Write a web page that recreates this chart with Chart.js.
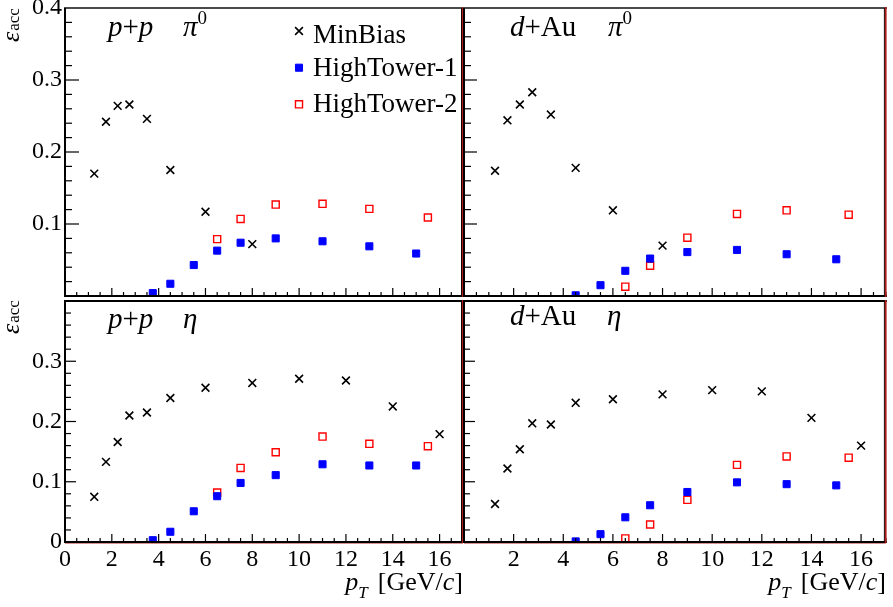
<!DOCTYPE html>
<html>
<head>
<meta charset="utf-8">
<title>Acceptance</title>
<script src="https://cdn.jsdelivr.net/npm/chart.js@4.4.1/dist/chart.umd.min.js"></script>
<style>
    html, body { margin: 0; padding: 0; background: #fff; }
    #wrap { position: relative; width: 893px; height: 607px; overflow: hidden; }
    #wrap canvas { position: absolute; left: 0; top: 0; }
</style>
</head>
<body>
<div id="wrap">
    <canvas id="pp-pi0" width="893" height="607"></canvas>
    <canvas id="dau-pi0" width="893" height="607"></canvas>
    <canvas id="pp-eta" width="893" height="607"></canvas>
    <canvas id="dau-eta" width="893" height="607"></canvas>
</div>
<script>
"use strict";

// pT bin centres [GeV/c]
var ptMinBiasPi0 = [1.25, 1.75, 2.25, 2.75, 3.5, 4.5, 6, 8];
var ptMinBiasEta = [1.25, 1.75, 2.25, 2.75, 3.5, 4.5, 6, 8, 10, 12, 14, 16];
var ptHT1pp = [3.75, 4.5, 5.5, 6.5, 7.5, 9, 11, 13, 15];
var ptHT1dAu = [4.5, 5.5, 6.5, 7.5, 9, 11, 13, 15];
var ptHT2 = [6.5, 7.5, 9, 11, 13, 15.5];

// acceptance, p+p pi0
var ppPi0MinBias = [0.170, 0.242, 0.264, 0.266, 0.246, 0.175, 0.117, 0.072];
var ppPi0HT1 = [0.004, 0.017, 0.043, 0.063, 0.074, 0.080, 0.076, 0.069, 0.059];
var ppPi0HT2 = [0.079, 0.107, 0.127, 0.128, 0.121, 0.109];

// acceptance, d+Au pi0
var dAuPi0MinBias = [0.174, 0.244, 0.266, 0.283, 0.252, 0.178, 0.119, 0.070];
var dAuPi0HT1 = [0.001, 0.015, 0.035, 0.052, 0.061, 0.064, 0.058, 0.051];
var dAuPi0HT2 = [0.013, 0.042, 0.081, 0.114, 0.119, 0.113];

// acceptance, p+p eta
var ppEtaMinBias = [0.075, 0.133, 0.166, 0.210, 0.215, 0.239, 0.256, 0.264, 0.271, 0.268, 0.225, 0.179];
var ppEtaHT1 = [0.003, 0.017, 0.051, 0.076, 0.098, 0.111, 0.129, 0.127, 0.127];
var ppEtaHT2 = [0.082, 0.123, 0.149, 0.175, 0.163, 0.159];

// acceptance, d+Au eta
var dAuEtaMinBias = [0.063, 0.122, 0.154, 0.197, 0.195, 0.231, 0.237, 0.245, 0.252, 0.250, 0.206, 0.160];
var dAuEtaHT1 = [0.001, 0.013, 0.041, 0.061, 0.083, 0.099, 0.096, 0.094];
var dAuEtaHT2 = [0.006, 0.029, 0.070, 0.128, 0.142, 0.140];

var seriesNames = ["MinBias", "HighTower-1", "HighTower-2"];
var xTickLabelsLeft = [0, 2, 4, 6, 8, 10, 12, 14, 16];
var xTickLabelsRight = [2, 4, 6, 8, 10, 12, 14, 16];
var yTickLabelsTop = [0.1, 0.2, 0.3, 0.4];
var yTickLabelsBottom = [0, 0.1, 0.2, 0.3];

var FONT = "'Liberation Serif', 'DejaVu Serif', serif";
var Y_AXIS_W = 60;   // room kept for y tick labels
var X_AXIS_H = 40;   // room kept for x tick labels


function pts(xs, ys) {
    return xs.map(function (x, i) { return {x: x, y: ys[i]}; });
}

// text with italic / sub / superscript pieces
function richText(ctx, x, y, parts, alignRight) {
    var total = 0;
    parts.forEach(function (p) {
        ctx.font = (p.i ? "italic " : "") + (p.s || 26) + "px " + FONT;
        p.w = ctx.measureText(p.t).width + (p.gap || 0);
        total += p.w;
    });
    var cx = alignRight ? x - total : x;
    parts.forEach(function (p) {
        ctx.font = (p.i ? "italic " : "") + (p.s || 26) + "px " + FONT;
        ctx.fillText(p.t, cx, y + (p.dy || 0));
        cx += p.w;
    });
}

var systemText = {
    "pp": [{t: "p", i: 1, s: 29}, {t: "+", s: 29}, {t: "p", i: 1, s: 29}],
    "dAu": [{t: "d", i: 1, s: 29}, {t: "+", s: 29}, {t: "Au", s: 29}]
};
var mesonText = {
    "pi0": [{t: "π", i: 1, s: 29}, {t: "0", s: 19, dy: -12}],
    "eta": [{t: "η", i: 1, s: 29}]
};

function line(ctx, x1, y1, x2, y2, color, w) {
    ctx.beginPath();
    ctx.strokeStyle = color;
    ctx.lineWidth = w;
    ctx.moveTo(x1, y1);
    ctx.lineTo(x2, y2);
    ctx.stroke();
}

// frame, inward ticks, titles and legend
var framePlugin = {
    id: "frame",
    afterDraw: function (chart) {
        var ctx = chart.ctx;
        var a = chart.chartArea;
        var o = chart.options.plugins.frame;
        ctx.save();

        // ticks
        var xs = chart.scales.x, ys = chart.scales.y;
        xs.ticks.forEach(function (t) {
            var px = xs.getPixelForValue(t.value);
            var len = (t.value % 2 === 0) ? o.xTick[0] : o.xTick[1];
            line(ctx, px, a.bottom, px, a.bottom - len, "#000", 1.2);
        });
        ys.ticks.forEach(function (t) {
            var py = ys.getPixelForValue(t.value);
            var major = Math.abs(t.value * 10 - Math.round(t.value * 10)) < 1e-6;
            var len = major ? o.yTick[0] : o.yTick[1];
            line(ctx, a.left, py, a.left + len, py, "#000", 1.2);
        });

        // borders
        line(ctx, a.left - 1, a.top, a.right + 1, a.top, o.bottomRow ? "#000" : "#4a4a4a", 2);
        if (o.bottomRow) {
            line(ctx, a.left, a.bottom + 1, a.right, a.bottom + 1, "#b02020", 1);
        }
        line(ctx, a.left - 1, a.bottom, a.right + 1, a.bottom, "#000", 2);
        line(ctx, a.left, a.top, a.left, a.bottom + 1, "#000", 2);
        line(ctx, a.right - 1.5, a.top, a.right - 1.5, a.bottom, "#000", 1);
        line(ctx, a.right - 0.2, a.top - 1, a.right - 0.2, a.bottom + 1, "#b01c1c", 1.8);

        ctx.fillStyle = "#000";
        ctx.textBaseline = "alphabetic";
        ctx.textAlign = "left";

        // system and meson
        richText(ctx, a.left + o.sysDx, a.top + o.labelDy, systemText[o.system]);
        richText(ctx, a.left + o.mesonDx, a.top + o.labelDy, mesonText[o.meson]);

        // y title
        if (o.yTitle) {
            ctx.save();
            ctx.translate(19, a.top + o.yTitleDy);
            ctx.rotate(-Math.PI / 2);
            richText(ctx, 0, 0, [{t: "ε", i: 1, s: 26, gap: 1}, {t: "acc", s: 17, dy: 0}]);
            ctx.restore();
        }

        // x title
        if (o.xTitle) {
            richText(ctx, a.right, 590, [
                {t: "p", i: 1},
                {t: "T", i: 1, s: 17, dy: 8, gap: 10},
                {t: "[GeV/"},
                {t: "c", i: 1},
                {t: "]"}
            ], true);
        }

        // legend
        if (o.legend) {
            var rowMarker = [31, 67.7, 104.3];
            var rowText = [42.7, 76, 112];
            chart.data.datasets.forEach(function (ds, i) {
                ctx.fillStyle = ds.backgroundColor;
                ctx.strokeStyle = ds.borderColor;
                ctx.lineWidth = ds.borderWidth;
                Chart.helpers.drawPoint(ctx, {
                    pointStyle: ds.pointStyle,
                    radius: ds.pointRadius,
                    borderWidth: ds.borderWidth,
                    rotation: 0
                }, 299, rowMarker[i]);
                ctx.fillStyle = "#000";
                richText(ctx, 313, rowText[i], [{t: ds.label, s: 27}]);
            });
        }
        ctx.restore();
    }
};

function makePanel(id, box, series, opt) {
    var L = box[0], T = box[1], R = box[2], B = box[3];

    var xMinor = [];
    for (var i = 0; i <= 34; i++) xMinor.push({value: i * 0.5});
    var yMinor = [];
    for (var j = 0; j <= 20; j++) yMinor.push({value: Math.round(j * 2) / 100});

    function fixFit(w, h) {
        return function (scale) {
            if (w !== null) scale.width = w;
            if (h !== null) scale.height = h;
            scale.paddingTop = 0;
            scale.paddingBottom = 0;
            scale.paddingLeft = 0;
            scale.paddingRight = 0;
        };
    }

    var ctx = document.getElementById(id).getContext("2d");
    return new Chart(ctx, {
        type: "scatter",
        data: {
            datasets: [
                {
                    label: seriesNames[0],
                    data: pts(series[0][0], series[0][1]),
                    pointStyle: "crossRot",
                    pointRadius: 5.5,
                    borderWidth: 1.6,
                    borderColor: "#000000",
                    backgroundColor: "#000000"
                },
                {
                    label: seriesNames[1],
                    data: pts(series[1][0], series[1][1]),
                    pointStyle: "rect",
                    pointRadius: 5,
                    borderWidth: 1,
                    borderColor: "#0000ff",
                    backgroundColor: "#0000ff"
                },
                {
                    label: seriesNames[2],
                    data: pts(series[2][0], series[2][1]),
                    pointStyle: "rect",
                    pointRadius: 5,
                    borderWidth: 1.4,
                    borderColor: "#ff0000",
                    backgroundColor: "rgba(255,255,255,0)"
                }
            ]
        },
        options: {
            responsive: false,
            animation: false,
            events: [],
            layout: {
                padding: {
                    left: L - Y_AXIS_W,
                    top: T,
                    right: 893 - R,
                    bottom: 607 - B - X_AXIS_H
                }
            },
            scales: {
                x: {
                    type: "linear",
                    min: 0,
                    max: 17,
                    grid: {display: false, drawTicks: false},
                    border: {display: false},
                    afterBuildTicks: function (scale) { scale.ticks = xMinor.slice(); },
                    afterFit: fixFit(null, X_AXIS_H),
                    ticks: {
                        autoSkip: false,
                        maxRotation: 0,
                        padding: 3,
                        color: "#000",
                        font: {family: FONT, size: 24},
                        callback: function (v) {
                            return opt.xLabels.indexOf(v) >= 0 ? String(v) : "";
                        }
                    }
                },
                y: {
                    type: "linear",
                    min: 0,
                    max: 0.4,
                    grid: {display: false, drawTicks: false},
                    border: {display: false},
                    afterBuildTicks: function (scale) { scale.ticks = yMinor.slice(); },
                    afterFit: fixFit(Y_AXIS_W, null),
                    ticks: {
                        autoSkip: false,
                        padding: 3,
                        color: "#000",
                        font: {family: FONT, size: 24},
                        callback: function (v) {
                            return opt.yLabels.indexOf(v) >= 0 ? String(v) : "";
                        }
                    }
                }
            },
            plugins: {
                legend: {display: false},
                tooltip: {enabled: false},
                frame: opt
            }
        },
        plugins: [framePlugin]
    });
}


// p+p pi0
makePanel("pp-pi0", [65, 8, 463, 296], [
    [ptMinBiasPi0, ppPi0MinBias], [ptHT1pp, ppPi0HT1], [ptHT2, ppPi0HT2]
], {
    xLabels: [], yLabels: yTickLabelsTop, xTick: [8, 4], yTick: [14, 7],
    system: "pp", meson: "pi0", sysDx: 43, mesonDx: 118, labelDy: 28,
    yTitle: true, yTitleDy: 34, xTitle: false, legend: true, bottomRow: false
});

// d+Au pi0
makePanel("dau-pi0", [464, 8, 888, 296], [
    [ptMinBiasPi0, dAuPi0MinBias], [ptHT1dAu, dAuPi0HT1], [ptHT2, dAuPi0HT2]
], {
    xLabels: [], yLabels: [], xTick: [8, 4], yTick: [13, 7],
    system: "dAu", meson: "pi0", sysDx: 46, mesonDx: 144, labelDy: 28,
    yTitle: false, xTitle: false, legend: false, bottomRow: false
});

// p+p eta
makePanel("pp-eta", [65, 301, 463, 542], [
    [ptMinBiasEta, ppEtaMinBias], [ptHT1pp, ppEtaHT1], [ptHT2, ppEtaHT2]
], {
    xLabels: xTickLabelsLeft, yLabels: yTickLabelsBottom, xTick: [8, 4], yTick: [11, 6],
    system: "pp", meson: "eta", sysDx: 43, mesonDx: 118, labelDy: 27,
    yTitle: true, yTitleDy: 33, xTitle: true, legend: false, bottomRow: true
});

// d+Au eta
makePanel("dau-eta", [464, 301, 888, 542], [
    [ptMinBiasEta, dAuEtaMinBias], [ptHT1dAu, dAuEtaHT1], [ptHT2, dAuEtaHT2]
], {
    xLabels: xTickLabelsRight, yLabels: [], xTick: [8, 4], yTick: [11, 6],
    system: "dAu", meson: "eta", sysDx: 46, mesonDx: 143, labelDy: 24,
    yTitle: false, xTitle: true, legend: false, bottomRow: true
});
</script>
</body>
</html>
